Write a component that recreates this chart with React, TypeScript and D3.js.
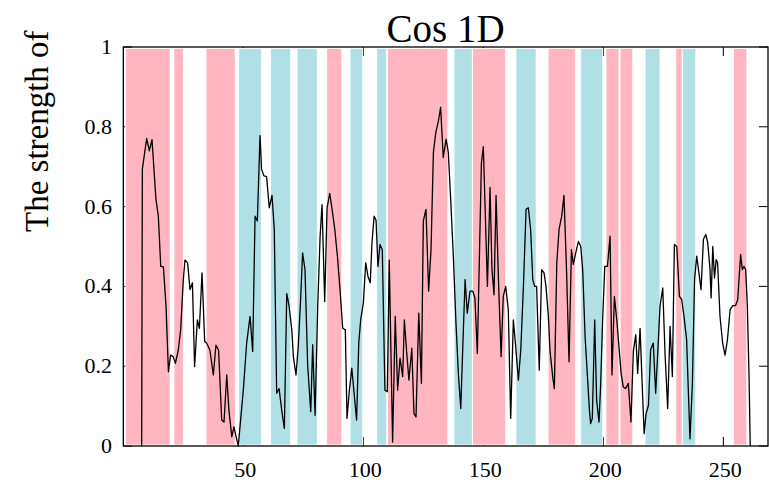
import React from "react";
import * as d3 from "d3";

const title = "Cos 1D";
const yLabel = "The strength of";
const xTicks = [50, 100, 150, 200, 250];
const yTicks = [0, 0.2, 0.4, 0.6, 0.8, 1];
const yTickLabels = ["0", "0.2", "0.4", "0.6", "0.8", "1"];

// band intervals [start, end, kind]
const bandStarts = [1.0, 21.1, 34.5, 48.1, 61.4, 72.4, 84.75, 94.5, 105.6, 110.1, 137.8, 145.5, 163.6, 177.0, 190.6, 201.1, 207.0, 217.4, 230.2, 232.9, 254.2];
const bandEnds = [19.5, 25.0, 46.6, 57.5, 69.75, 80.8, 91.0, 99.75, 109.75, 135.2, 145.4, 159.3, 172.0, 188.3, 199.75, 206.5, 212.25, 223.6, 232.8, 238.5, 259.75];
const bandKinds = ["p", "p", "p", "b", "b", "b", "p", "b", "b", "p", "b", "p", "b", "p", "b", "p", "p", "b", "p", "b", "p"];

const steps = [
  7.65, 7.93, 9.74, 10.85, 11.96, 13.6, 14.6, 15.6, 16.7, 17.8, 18.8, 19.7, 20.8, 21.7, 22.9, 23.9, 25, 25.7, 26.8, 27.8,
  28.8, 29.7, 30.85, 31.7, 32.8, 33.9, 34.7, 36.1, 37.5, 38.6, 39.7, 41, 41.96, 43.1, 44, 45.2, 46.1, 47.2, 47.9, 50,
  51.4, 52.8, 53.9, 54.9, 55.85, 56.96, 57.6, 58.6, 59.7, 60.8, 61.96, 62.9, 63.9, 64.9, 66, 67.1, 68.1, 69, 70.2, 70.85,
  71.95, 72.9, 73.8, 74.7, 75.7, 76.8, 78.1, 78.9, 79.9, 81, 82, 82.8, 83.9, 84.9, 86, 87, 88.1, 89.2, 90.3, 91.4,
  92.5, 93.2, 94.2, 95.2, 96.3, 97.2, 98.1, 98.9, 100, 101, 101.95, 102.9, 103.6, 104.5, 105.3, 106.1, 106.96, 107.9, 109, 110,
  110.8, 112.2, 113.3, 114.3, 115.3, 116.4, 117.1, 118.1, 119, 120.2, 121.1, 121.96, 123.1, 124.2, 125, 126.1, 127.2, 128.2, 129.2, 130.2,
  131.3, 132.2, 133.3, 134.5, 135.4, 136.4, 137.5, 138.6, 139.6, 140.6, 141.4, 142.4, 143.3, 144.45, 145.6, 146.5, 147.5, 149.2, 150, 151.7,
  152.8, 153.6, 154.45, 155.3, 156.3, 157.4, 158.3, 159.3, 160.4, 161.4, 162.5, 163.6, 164.6, 165.6, 166.7, 167.8, 168.75, 169.7, 170.6, 171.4,
  172.2, 173.3, 174.3, 175.3, 176.1, 177.1, 177.8, 178.9, 179.6, 180.6, 181.55, 182.65, 183.6, 184.7, 185.7, 186.7, 187.5, 188.5, 189.6, 190.6,
  191.4, 192.4, 193.3, 194.2, 194.7, 195.4, 196.4, 197.2, 198.2, 198.9, 199.7, 200.6, 201.7, 202.8, 203.6, 204.6, 205.6, 206.5, 207.4, 208.3,
  209.3, 210.4, 211.5, 212.5, 213.5, 214.3, 215.3, 216, 217, 217.8, 218.8, 219.7, 220.8, 221.8, 222.65, 223.6, 224.75, 225.7, 226.8, 227.8,
  228.75, 229.6, 230.6, 231.7, 232.65, 233.6, 234.7, 235.4, 236.1, 237.1, 238, 238.9, 240, 240.7, 241.7, 242.7, 243.5, 244.45, 244.9, 245.6,
  246.3, 247, 247.6, 248.6, 249.7, 250.7, 251.7, 252.8, 253.9, 255.1, 256, 256.7, 257.2, 257.9, 258.6, 259.3, 260, 260.7, 261.2,
];

const strength = [
  0, 0.694, 0.771, 0.74, 0.768, 0.618, 0.576, 0.45, 0.449, 0.35, 0.186, 0.228, 0.224, 0.207, 0.24, 0.291, 0.417, 0.466, 0.459, 0.392,
  0.409, 0.199, 0.316, 0.295, 0.434, 0.262, 0.258, 0.24, 0.178, 0.253, 0.24, 0.065, 0.06, 0.178, 0.09, 0.023, 0.048, 0.018, 0, 0.14,
  0.258, 0.325, 0.237, 0.576, 0.564, 0.778, 0.694, 0.677, 0.675, 0.597, 0.628, 0.543, 0.132, 0.144, 0.09, 0.044, 0.382, 0.354, 0.291, 0.224,
  0.178, 0.25, 0.358, 0.484, 0.442, 0.203, 0.086, 0.254, 0.077, 0.35, 0.526, 0.605, 0.362, 0.597, 0.633, 0.593, 0.543, 0.476, 0.392, 0.295,
  0.291, 0.069, 0.14, 0.195, 0.123, 0.065, 0.258, 0.316, 0.358, 0.459, 0.425, 0.409, 0.509, 0.576, 0.566, 0.45, 0.505, 0.492, 0.14, 0.136,
  0.466, 0.01, 0.325, 0.14, 0.22, 0.174, 0.316, 0.232, 0.165, 0.245, 0.081, 0.073, 0.333, 0.157, 0.564, 0.593, 0.388, 0.492, 0.736, 0.786,
  0.815, 0.849, 0.723, 0.769, 0.736, 0.618, 0.476, 0.308, 0.182, 0.094, 0.241, 0.417, 0.333, 0.388, 0.388, 0.371, 0.232, 0.71, 0.75, 0.4,
  0.648, 0.442, 0.379, 0.628, 0.417, 0.224, 0.375, 0.4, 0.341, 0.069, 0.316, 0.241, 0.165, 0.241, 0.4, 0.593, 0.597, 0.543, 0.417, 0.4,
  0.4, 0.19, 0.442, 0.434, 0.4, 0.325, 0.237, 0.174, 0.144, 0.459, 0.543, 0.576, 0.628, 0.434, 0.211, 0.492, 0.455, 0.484, 0.513, 0.5,
  0.442, 0.274, 0.182, 0.09, 0.056, 0.069, 0.316, 0.115, 0.06, 0.157, 0.316, 0.45, 0.45, 0.526, 0.178, 0.375, 0.316, 0.249, 0.182, 0.148,
  0.144, 0.157, 0.06, 0.237, 0.279, 0.182, 0.295, 0.182, 0.031, 0.081, 0.102, 0.241, 0.258, 0.132, 0.232, 0.35, 0.396, 0.232, 0.094, 0.3,
  0.174, 0.505, 0.5, 0.375, 0.367, 0.325, 0.266, 0.14, 0.018, 0.157, 0.417, 0.476, 0.425, 0.392, 0.518, 0.53, 0.509, 0.442, 0.371, 0.5,
  0.421, 0.467, 0.459, 0.325, 0.258, 0.228, 0.266, 0.341, 0.352, 0.352, 0.367, 0.434, 0.48, 0.442, 0.45, 0.442, 0.35, 0.174, 0,
];

const W = 769;
const H = 483;
const L = 123.3;
const R = 768;
const T = 47;
const B = 446;

export default function App() {
  const x = d3.scaleLinear().domain([0, 268.6]).range([L, R]);
  const y = d3.scaleLinear().domain([0, 1]).range([B, T]);
  const pts: [number, number][] = steps.map((s, i) => [s, strength[i]]);
  const line = d3
    .line<[number, number]>()
    .x((d) => x(d[0]))
    .y((d) => y(d[1]));
  const colors: Record<string, string> = { p: "#FFB6C1", b: "#B0E0E6" };
  const font = "'Liberation Serif', 'DejaVu Serif', serif";
  const tl = 9;
  return (
    <svg
      width={W}
      height={H}
      style={{ position: "absolute", left: 0, top: 0, background: "#fff" }}
      fontFamily={font}
    >
      <rect x={0} y={0} width={W} height={H} fill="#fff" />
      {/* ticks (drawn under bands) */}
      {xTicks.map((t) => (
        <g key={"xt" + t}>
          <line x1={x(t)} x2={x(t)} y1={B} y2={B - tl} stroke="#000" strokeWidth={1} />
          <line x1={x(t)} x2={x(t)} y1={T} y2={T + tl} stroke="#000" strokeWidth={1} />
        </g>
      ))}
      {yTicks.map((t) => (
        <g key={"yt" + t}>
          <line x1={L} x2={L + tl} y1={y(t)} y2={y(t)} stroke="#000" strokeWidth={1} />
          <line x1={R} x2={R - tl} y1={y(t)} y2={y(t)} stroke="#000" strokeWidth={1} />
        </g>
      ))}
      {/* bands */}
      {bandStarts.map((s, i) => (
        <rect
          key={"b" + i}
          x={x(s)}
          y={T + 1.5}
          width={x(bandEnds[i]) - x(s)}
          height={B - T - 2.5}
          fill={colors[bandKinds[i]]}
          stroke="#fff"
          strokeWidth={0.8}
        />
      ))}
      {/* frame */}
      <rect x={L} y={T} width={R - L} height={B - T} fill="none" stroke="#000" strokeWidth={1.3} />
      {/* data line */}
      <path d={line(pts) || ""} fill="none" stroke="#000" strokeWidth={1.3} strokeLinejoin="round" />
      {/* tick labels */}
      {xTicks.map((t) => (
        <text key={"xl" + t} x={x(t) + 2} y={477} fontSize={22} textAnchor="middle" fill="#000">
          {t}
        </text>
      ))}
      {yTicks.map((t, i) => (
        <text key={"yl" + t} x={112} y={y(t) + 7} fontSize={22} textAnchor="end" fill="#000">
          {yTickLabels[i]}
        </text>
      ))}
      <text x={(L + R) / 2} y={42} fontSize={39} textAnchor="middle" fill="#000">
        {title}
      </text>
      <text
        transform={`translate(48, 232) rotate(-90)`}
        fontSize={33}
        textAnchor="start"
        fill="#000"
      >
        {yLabel}
      </text>
    </svg>
  );
}
